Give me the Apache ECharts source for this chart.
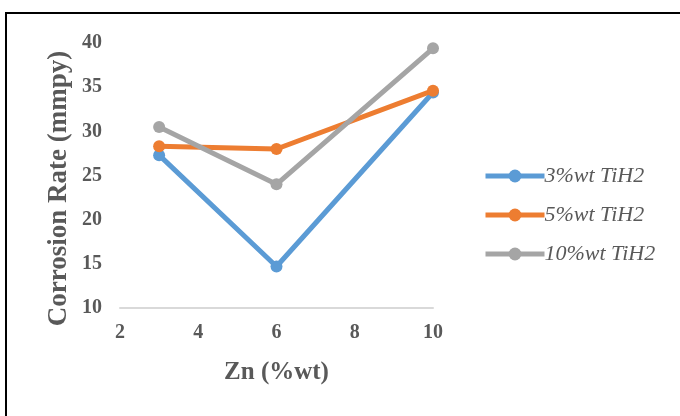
<!DOCTYPE html>
<html>
<head>
<meta charset="utf-8">
<script src="https://cdn.jsdelivr.net/npm/echarts@6/dist/echarts.min.js"></script>
<style>
  html, body { margin: 0; padding: 0; background: #fff; }
  #chart { width: 680px; height: 416px; }
</style>
</head>
<body>
<div id="chart"></div>
<script>
// Zn content (%wt) on the x axis
const znContent = [3, 6, 10];

// Corrosion rate (mmpy) for each TiH2 addition
const seriesNames = ['3%wt TiH2', '5%wt TiH2', '10%wt TiH2'];
const rate3 = [27.3, 14.7, 34.4];
const rate5 = [28.3, 28.0, 34.6];
const rate10 = [30.5, 24.0, 39.4];

const seriesColors = ['#5B9BD5', '#ED7D31', '#A5A5A5'];
const allRates = [rate3, rate5, rate10];

const textGrey = '#595959';
const serif = '"Liberation Serif", "Times New Roman", serif';

const chart = echarts.init(document.getElementById('chart'), null, { renderer: 'canvas' });

const series = seriesNames.map((name, i) => ({
  name: name,
  type: 'line',
  data: znContent.map((x, j) => [x, allRates[i][j]]),
  symbol: 'circle',
  symbolSize: 12,
  showSymbol: true,
  itemStyle: { color: seriesColors[i] },
  lineStyle: { color: seriesColors[i], width: 5 },
  z: 2 + i
}));

chart.setOption({
  animation: false,
  backgroundColor: '#ffffff',
  grid: { left: 120, right: 247, top: 43, bottom: 108 },
  xAxis: {
    type: 'value',
    min: 2, max: 10, interval: 2,
    name: 'Zn (%wt)',
    nameLocation: 'middle',
    nameGap: 52,
    nameTextStyle: { fontFamily: serif, fontWeight: 'bold', fontSize: 25, color: textGrey },
    axisLine: { show: true, lineStyle: { color: '#D9D9D9', width: 2 } },
    axisTick: { show: false },
    splitLine: { show: false },
    axisLabel: { fontFamily: serif, fontWeight: 'bold', fontSize: 20, color: textGrey, margin: 15 }
  },
  yAxis: {
    type: 'value',
    min: 10, max: 40, interval: 5,
    name: 'Corrosion Rate (mmpy)',
    nameLocation: 'middle',
    nameGap: 47,
    nameTextStyle: { fontFamily: serif, fontWeight: 'bold', fontSize: 27, color: textGrey, padding: [0, 26, 0, 0] },
    axisLine: { show: false },
    axisTick: { show: false },
    splitLine: { show: false },
    axisLabel: { fontFamily: serif, fontWeight: 'bold', fontSize: 20, color: textGrey, margin: 18 }
  },
  legend: {
    orient: 'vertical',
    left: 483,
    top: 165,
    padding: 0,
    itemWidth: 59,
    itemHeight: 16,
    itemGap: 17,
    data: seriesNames,
    lineStyle: { width: 5 },
    textStyle: { fontFamily: serif, fontStyle: 'italic', fontSize: 22, color: textGrey, padding: [0, 0, 0, -5] }
  },
  graphic: [{
    type: 'polyline',
    shape: { points: [[6, 416], [6, 13], [680, 13]] },
    style: { stroke: '#000', lineWidth: 2, fill: null },
    silent: true
  }],
  series: series
});
</script>
</body>
</html>
